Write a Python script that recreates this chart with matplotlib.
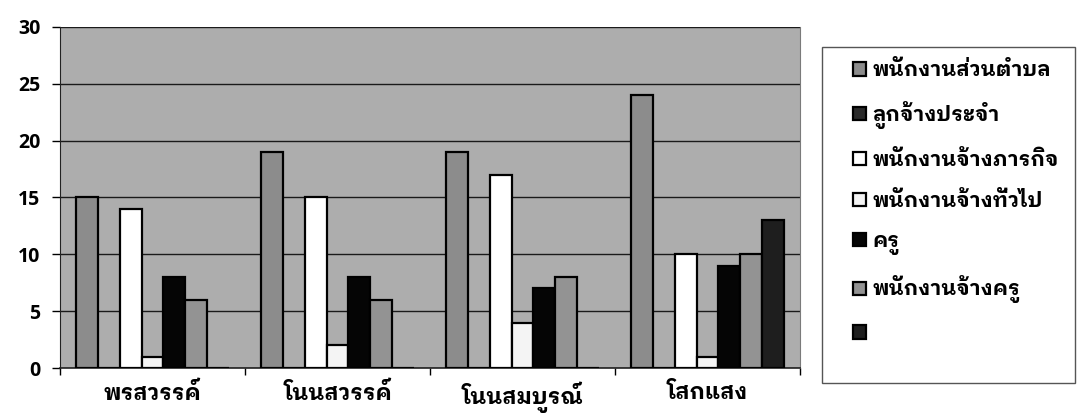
import matplotlib
matplotlib.use("Agg")
import numpy as np
import matplotlib.pyplot as plt
from matplotlib.patches import Rectangle

# Data
villages = ["พรสวรรค์", "โนนสวรรค์", "โนนสมบูรณ์", "โสกแสง"]
series_names = ["พนักงานส่วนตำบล", "ลูกจ้างประจำ", "พนักงานจ้างภารกิจ",
                "พนักงานจ้างทั่วไป", "ครู", "พนักงานจ้างครู", " "]
tambon_staff = [15, 19, 19, 24]
permanent = [0, 0, 0, 0]
mission_staff = [14, 15, 17, 10]
general_staff = [1, 2, 4, 1]
teachers = [8, 8, 7, 9]
teacher_staff = [6, 6, 8, 10]
other = [0, 0, 0, 13]
y_ticks = [0, 5, 10, 15, 20, 25, 30]

values = [tambon_staff, permanent, mission_staff, general_staff,
          teachers, teacher_staff, other]
colors = ["#8c8c8c", "#2a2a2a", "#ffffff", "#f4f4f4", "#050505", "#939393", "#1e1e1e"]

THAI = ["IBM Plex Sans Thai Looped", "DejaVu Sans"]

fig = plt.figure(figsize=(10.81, 4.17), dpi=100)
ax = fig.add_axes([60 / 1081, 49 / 417, 740 / 1081, 341 / 417])
ax.set_facecolor("#adadad")

x = np.arange(len(villages))
w = 0.118
bars = []
for i, (vals, col) in enumerate(zip(values, colors)):
    b = ax.bar(x + (i - 3) * w, vals, w, color=col, edgecolor="black",
               linewidth=1.6, zorder=3, label=series_names[i])
    bars.append(b)

ax.set_xlim(-0.5, 3.5)
ax.set_ylim(0, 30)
ax.set_yticks(y_ticks)
ax.yaxis.grid(True, color="#1a1a1a", linewidth=1.0, zorder=1)
ax.set_axisbelow(True)

for lab in ax.get_yticklabels():
    lab.set_fontfamily("Open Sans")
    lab.set_fontweight("bold")
    lab.set_fontsize(14)
ax.tick_params(axis="y", length=6, width=1, pad=8)

ax.set_xticks(np.arange(-0.5, 4.0, 1.0))
ax.set_xticklabels([])
ax.set_xticks(x, minor=True)
ax.set_xticklabels(villages, minor=True, family=THAI, fontweight="bold", fontsize=16)
ax.tick_params(axis="x", which="major", length=5, width=1)
ax.tick_params(axis="x", which="minor", length=0, pad=10)

ax.spines["top"].set_visible(False)
ax.spines["right"].set_color("#7a7a7a")
ax.spines["left"].set_color("#222222")
ax.spines["bottom"].set_color("#222222")
ax.spines["bottom"].set_linewidth(1.2)

# legend box
fig.patches.append(Rectangle((822 / 1081, 1 - 383 / 417), 253 / 1081, 336 / 417,
                             transform=fig.transFigure, fill=False,
                             edgecolor="#555555", linewidth=1.0))
leg = ax.legend(bars, series_names, loc="upper left",
                bbox_to_anchor=(845 / 1081, 1 - 52 / 417),
                bbox_transform=fig.transFigure, frameon=False,
                prop={"family": THAI, "weight": "bold", "size": 15},
                handlelength=0.6, handleheight=0.6, handletextpad=0.3,
                labelspacing=1.0, borderaxespad=0)

fig.savefig("out.png")
